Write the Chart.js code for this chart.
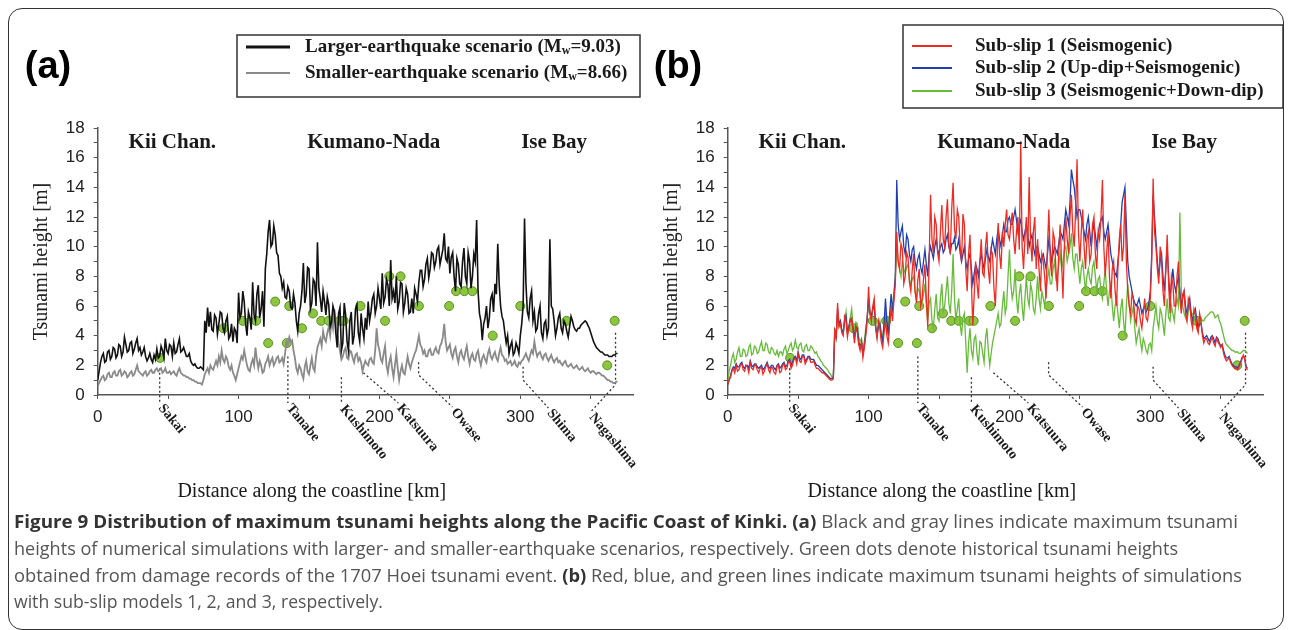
<!DOCTYPE html>
<html>
<head>
<meta charset="utf-8">
<script src="https://cdn.jsdelivr.net/npm/chart.js@4.4.0/dist/chart.umd.min.js"></script>
<style>
html, body { margin: 0; padding: 0; background: #fff; }
body { width: 1290px; height: 630px; position: relative; overflow: hidden; }
#frame { position: absolute; left: 8px; top: 8px; width: 1276px; height: 622px; border: 1.5px solid #333; border-radius: 14px; box-sizing: border-box; }
canvas { position: absolute; top: 0; }
#ca { left: 0; }
#cb { left: 645px; }
#cap { position: absolute; left: 0; top: 500px; font-family: 'Open Sans', 'Noto Sans', sans-serif; font-size: 18px; fill: #555; }
#cap .b { font-weight: bold; fill: #333; }
</style>
</head>
<body>
<div id="frame"></div>
<canvas id="ca" width="645" height="510"></canvas>
<canvas id="cb" width="645" height="510"></canvas>
<svg id="cap" width="1290" height="130">
  <text x="14" y="28" textLength="1224" lengthAdjust="spacingAndGlyphs"><tspan class="b">Figure 9 Distribution of maximum tsunami heights along the Pacific Coast of Kinki.</tspan> <tspan class="b">(a)</tspan> Black and gray lines indicate maximum tsunami</text>
  <text x="14" y="55" textLength="1164" lengthAdjust="spacingAndGlyphs">heights of numerical simulations with larger- and smaller-earthquake scenarios, respectively. Green dots denote historical tsunami heights</text>
  <text x="14" y="82" textLength="1228" lengthAdjust="spacingAndGlyphs">obtained from damage records of the 1707 Hoei tsunami event. <tspan class="b">(b)</tspan> Red, blue, and green lines indicate maximum tsunami heights of simulations</text>
  <text x="14" y="108" textLength="369" lengthAdjust="spacingAndGlyphs">with sub-slip models 1, 2, and 3, respectively.</text>
</svg>
<script>
// distance along the coastline, one sample per km (0 .. 369)
var km = [];
for (var i = 0; i < 370; i++) km.push(i);

// panel (a), heights in m
var larger = [
  1.0,1.6,2.2,2.6,2.8,2.2,2.3,2.9,3.0,2.4,
  2.6,3.2,3.1,2.5,2.7,3.4,3.3,2.6,2.9,3.9,
  3.4,2.9,3.0,3.5,3.6,2.8,3.1,3.5,3.8,3.0,
  3.2,2.7,2.9,3.2,2.6,2.3,2.5,2.8,2.4,2.2,
  2.7,2.4,3.1,2.5,2.6,3.3,3.0,2.5,3.8,3.0,
  2.8,3.4,3.3,2.6,3.5,2.8,2.9,3.4,3.8,2.9,
  3.0,3.2,2.9,2.6,2.6,2.8,2.3,2.1,2.0,2.1,
  1.9,1.8,1.8,1.9,1.8,1.7,5.0,4.2,5.9,4.6,
  5.6,4.4,4.3,5.4,5.2,4.1,4.8,5.6,5.5,4.5,
  4.2,5.0,5.3,3.8,4.0,4.8,3.6,4.5,4.3,3.5,
  6.9,5.2,5.5,7.0,6.3,4.8,4.0,5.6,5.2,4.4,
  7.6,5.4,5.0,6.8,7.4,5.2,5.8,7.0,4.6,8.5,
  9.5,11.0,11.8,10.0,10.2,11.4,10.8,9.6,9.4,8.2,
  8.0,7.2,7.6,6.6,6.5,7.3,7.0,5.9,5.8,6.8,
  6.2,5.0,4.3,5.5,6.0,7.0,8.9,6.2,6.8,8.6,
  8.5,5.8,6.2,7.8,7.6,6.0,10.3,7.2,6.5,5.6,
  7.0,6.3,5.4,6.6,6.1,4.6,4.9,6.0,5.6,4.2,
  3.2,5.5,5.9,3.0,3.5,6.2,5.4,3.6,3.0,5.0,
  5.6,3.4,4.0,5.8,6.1,4.2,3.6,5.5,4.5,3.8,
  5.2,4.4,6.3,5.0,5.6,6.5,6.8,5.5,6.0,7.2,
  6.5,5.8,8.2,6.2,6.6,7.8,7.4,6.0,9.1,6.5,
  7.0,6.2,8.0,5.8,6.3,7.6,7.5,5.6,6.2,7.2,
  6.8,5.5,5.6,6.5,5.5,7.2,6.8,6.3,7.6,8.4,
  8.4,7.3,7.8,8.8,9.2,7.9,8.5,9.6,9.5,8.6,
  9.0,9.8,10.0,8.8,9.3,9.8,10.9,9.2,9.0,10.0,
  8.2,9.3,9.6,8.0,7.0,9.2,8.8,7.5,7.3,9.0,
  9.9,8.0,7.5,9.6,9.0,7.2,8.0,9.5,9.0,11.8,
  7.0,5.5,5.0,3.7,4.8,5.2,6.0,4.5,5.2,6.5,
  6.8,5.6,7.5,6.8,10.2,7.5,6.0,5.3,5.0,4.2,
  3.5,4.0,2.8,3.3,3.6,2.7,2.9,3.5,3.2,2.8,
  4.0,4.8,6.0,11.9,7.5,5.6,5.2,6.5,7.0,5.0,
  5.6,4.3,4.5,5.5,6.0,4.2,3.8,4.8,5.0,4.0,
  4.5,10.5,6.0,5.8,5.0,4.0,4.5,5.2,5.5,4.5,
  4.2,5.0,4.8,4.3,3.9,4.6,5.3,5.0,4.6,4.4,
  4.3,4.5,4.5,4.7,4.8,4.9,5.0,4.9,4.7,4.5,
  4.2,3.9,3.6,3.4,3.2,3.1,3.0,2.9,2.9,2.8,
  2.7,2.7,2.7,2.6,2.6,2.6,2.7,2.7,2.8,2.8
];
var smaller = [
  0.6,0.8,1.0,1.2,1.3,1.0,1.1,1.4,1.5,1.2,
  1.2,1.5,1.6,1.3,1.3,1.6,1.7,1.3,1.4,1.6,
  1.5,1.2,1.3,1.5,1.6,1.3,1.4,1.7,2.0,1.6,
  1.5,1.4,1.3,1.5,1.6,1.3,1.4,1.6,1.7,1.5,
  1.5,1.7,1.8,1.6,1.7,1.8,1.5,1.6,1.8,1.5,
  1.5,1.6,1.4,1.5,1.6,1.4,1.3,1.6,1.8,1.5,
  1.4,1.3,1.3,1.2,1.2,1.1,1.1,1.0,1.0,0.9,
  0.9,0.8,0.8,0.8,0.7,1.0,1.4,1.6,1.8,1.5,
  2.0,1.8,1.7,2.0,2.3,2.0,2.6,2.2,3.0,2.4,
  2.2,2.6,2.4,1.9,1.7,2.0,1.5,1.3,1.0,1.4,
  1.8,2.2,2.6,2.4,3.0,2.5,2.0,1.7,1.6,2.1,
  2.4,2.0,3.2,2.4,1.8,2.3,2.0,1.5,1.6,2.1,
  2.3,2.6,2.0,2.3,2.5,2.0,2.2,2.5,2.6,2.2,
  2.3,2.5,2.1,2.8,3.6,3.4,3.9,3.6,3.7,3.0,
  2.5,1.8,1.5,2.0,1.8,1.4,1.1,1.9,2.3,1.6,
  1.4,2.0,2.5,1.8,1.6,2.6,3.2,3.5,3.8,3.3,
  4.3,3.8,3.6,4.2,4.6,4.0,5.0,4.5,5.8,4.8,
  4.2,3.5,3.0,2.4,2.6,3.0,3.2,2.5,2.4,3.0,
  2.9,2.5,2.2,2.7,2.8,2.3,2.5,2.2,1.6,2.0,
  2.3,2.1,2.0,2.4,2.5,2.2,2.1,3.0,4.5,3.4,
  3.0,2.4,2.2,2.8,3.3,2.0,1.5,2.2,2.6,1.8,
  1.2,2.0,2.8,1.8,1.0,1.6,2.0,1.5,1.4,2.0,
  2.6,2.1,1.8,2.2,2.5,2.8,3.0,3.5,4.0,3.4,
  3.2,2.8,3.0,2.6,2.6,3.0,3.1,2.7,2.7,3.0,
  3.2,2.9,2.8,3.3,3.5,3.9,4.8,3.6,3.0,3.2,
  3.4,2.8,2.5,3.0,3.2,2.6,2.2,2.8,3.0,2.6,
  2.4,2.9,3.3,2.6,2.1,2.6,2.8,2.4,2.3,2.8,
  3.0,2.4,2.0,2.5,2.7,2.4,2.2,2.8,3.1,2.6,
  2.4,2.7,2.9,2.5,2.3,2.8,3.2,2.7,2.6,2.3,
  2.4,2.1,2.2,2.3,2.0,2.1,2.3,2.0,1.9,2.2,
  2.1,2.3,2.4,2.6,2.8,2.5,2.3,2.7,3.0,2.8,
  3.6,3.0,2.6,2.8,2.9,2.6,2.4,2.7,2.8,2.5,
  2.3,2.5,2.7,2.4,2.2,2.4,2.5,2.2,2.3,2.1,
  2.0,2.2,2.3,2.0,1.9,2.0,2.1,1.9,1.8,1.9,
  2.0,1.8,1.7,1.8,1.9,1.7,1.6,1.7,1.8,1.6,
  1.5,1.6,1.6,1.5,1.4,1.5,1.5,1.4,1.3,1.3,
  1.2,1.1,1.0,1.0,0.9,0.9,0.8,0.8,0.9,0.9
];

// panel (b), heights in m
var subslip1 = [
  0.7,1.0,1.2,1.6,1.8,1.5,2.0,1.6,1.7,2.0,
  2.1,1.7,1.6,2.0,1.9,1.5,2.2,1.8,1.7,2.0,
  2.0,1.7,1.5,1.8,1.9,1.4,1.6,1.9,2.1,1.7,
  1.5,1.9,1.8,1.5,1.4,1.9,2.0,1.5,1.6,2.0,
  2.1,1.7,1.8,2.2,2.3,1.8,2.0,2.4,2.5,2.1,
  2.8,2.3,2.2,2.6,2.6,2.1,2.3,2.5,2.5,2.2,
  2.2,2.3,2.0,1.8,1.8,1.7,1.6,1.5,1.5,1.4,
  1.3,1.2,1.1,1.0,1.0,1.1,4.5,3.8,6.2,4.6,
  4.8,4.2,4.0,5.3,5.0,3.9,4.5,5.0,5.2,4.4,
  3.5,4.6,4.2,3.4,3.0,3.6,2.5,3.2,4.0,5.0,
  7.3,5.5,5.0,6.0,6.5,4.5,3.8,5.0,4.5,3.6,
  3.2,4.2,5.0,4.0,3.5,4.8,5.8,5.0,6.4,7.5,
  11.0,9.0,8.5,10.2,9.8,7.5,8.0,9.6,9.3,7.6,
  7.0,8.4,9.5,7.0,6.2,7.8,8.5,6.0,6.5,7.8,
  8.8,6.5,4.6,9.0,13.5,10.5,9.5,12.0,11.5,9.6,
  9.0,11.0,12.8,10.5,10.0,12.0,13.2,10.2,9.5,12.5,
  14.3,11.2,10.5,12.5,12.0,10.0,9.0,12.2,11.5,8.5,
  7.0,9.5,10.8,7.5,4.7,6.8,9.0,7.5,6.5,9.0,
  10.5,8.2,8.0,10.0,11.0,8.5,7.5,9.8,9.5,7.2,
  6.0,8.5,11.6,9.5,8.5,11.0,10.0,11.5,12.5,10.8,
  10.5,11.5,12.3,10.5,9.5,11.0,12.0,9.8,17.1,10.0,
  8.5,10.5,12.0,9.5,14.7,10.5,9.0,11.0,12.0,8.5,
  10.5,8.5,7.0,9.5,9.0,8.0,6.5,10.0,12.5,9.0,
  8.0,11.0,10.5,8.5,7.0,9.5,11.5,9.0,6.5,10.0,
  12.0,10.5,9.5,12.0,13.5,11.0,10.0,12.5,15.9,11.0,
  9.0,11.0,12.5,10.0,8.5,10.5,11.0,9.0,9.5,11.5,
  12.0,9.5,8.5,11.0,10.5,12.0,14.5,10.0,8.0,9.5,
  11.0,8.0,6.5,8.5,9.0,7.0,6.0,8.5,10.5,11.5,
  9.0,10.0,13.5,9.0,7.0,6.0,5.5,6.8,6.5,5.2,
  4.8,6.0,5.8,5.0,4.5,5.5,6.5,5.2,5.0,5.8,
  6.5,9.0,14.6,11.0,10.0,8.5,7.5,10.0,9.0,7.0,
  6.0,8.5,10.8,7.5,5.5,8.0,7.5,6.0,6.0,8.0,
  9.0,6.5,5.5,6.8,7.0,5.5,5.0,6.5,6.2,5.0,
  4.5,5.8,5.5,4.5,4.2,5.5,5.0,4.0,3.5,3.8,
  3.8,3.5,3.4,3.7,3.9,3.5,3.3,3.8,3.6,3.4,
  3.2,3.4,2.8,2.5,2.3,2.4,2.5,2.2,2.0,1.9,
  1.8,1.8,1.7,1.9,2.1,2.4,2.7,2.5,1.8,1.7
];
var subslip2 = [
  0.7,1.0,1.3,1.7,1.9,1.8,2.1,1.9,1.9,2.1,
  2.2,1.9,1.8,2.0,2.0,1.8,2.3,2.0,1.9,2.1,
  2.1,1.9,1.8,1.9,2.0,1.7,1.8,2.0,2.2,1.9,
  1.8,2.0,2.0,1.8,1.7,2.0,2.1,1.8,1.9,2.1,
  2.2,1.9,2.0,2.3,2.4,2.0,2.2,2.5,2.6,2.3,
  2.9,2.5,2.4,2.7,2.7,2.3,2.4,2.6,2.6,2.4,
  2.4,2.4,2.2,2.0,2.0,1.9,1.8,1.7,1.6,1.5,
  1.4,1.3,1.2,1.1,1.1,1.2,4.3,3.9,5.8,4.8,
  5.0,4.4,4.2,5.0,5.3,4.2,4.6,5.1,5.0,4.5,
  3.8,4.6,4.5,3.6,3.3,3.5,2.8,3.3,4.2,5.2,
  6.5,5.6,5.3,5.8,6.0,4.6,4.0,4.6,4.8,4.0,
  3.6,4.8,6.5,5.0,4.0,5.5,6.8,5.8,6.5,8.0,
  14.5,11.5,10.5,11.0,11.4,10.0,9.5,10.8,10.5,9.5,
  9.0,9.8,10.0,9.0,8.5,9.2,9.5,8.6,8.2,9.0,
  9.8,8.8,8.0,9.5,10.0,9.6,9.2,10.0,10.5,9.8,
  9.5,10.0,10.2,9.6,9.8,10.5,10.8,10.0,9.6,10.2,
  10.2,10.6,9.8,10.0,10.5,9.6,9.0,9.5,10.0,9.0,
  8.5,9.2,9.5,8.5,7.5,8.2,8.8,8.5,8.0,9.0,
  9.5,9.0,8.5,9.2,9.8,9.3,9.0,9.8,10.5,10.0,
  9.5,10.5,11.2,10.5,10.0,10.8,11.5,11.0,11.0,11.8,
  12.0,11.5,11.5,12.0,12.5,11.8,11.0,11.5,11.8,11.0,
  10.5,11.0,11.5,10.8,10.0,10.5,10.8,10.0,9.5,10.0,
  10.0,9.5,9.0,9.3,9.5,9.0,8.5,9.5,10.5,9.8,
  9.0,9.5,10.0,9.8,9.5,10.2,11.0,10.8,10.5,11.5,
  12.5,12.0,11.5,13.0,15.2,14.5,14.0,13.0,12.0,12.5,
  12.5,12.0,11.5,11.0,10.5,11.5,12.0,11.0,10.0,11.0,
  11.5,10.8,10.0,10.8,11.5,11.8,12.0,11.0,10.5,11.0,
  11.5,10.5,9.5,9.0,8.5,8.2,8.0,9.0,10.0,11.5,
  13.0,13.5,14.0,11.5,9.0,8.0,7.5,7.0,6.5,6.2,
  6.0,6.2,6.5,6.0,5.5,5.8,6.0,5.6,5.8,6.2,
  7.0,9.5,13.5,12.0,10.5,9.0,8.0,9.0,9.5,8.0,
  7.0,8.5,10.0,8.0,6.5,7.5,8.5,7.5,7.0,7.5,
  8.0,7.0,6.0,6.5,7.0,6.0,5.5,6.0,6.5,5.5,
  5.0,5.5,5.8,5.0,4.5,4.8,4.8,4.2,3.8,3.9,
  4.0,3.8,3.6,3.9,4.0,3.8,3.5,3.9,3.8,3.5,
  3.3,3.4,3.0,2.7,2.5,2.5,2.6,2.3,2.1,2.0,
  1.9,1.9,1.8,2.0,2.2,2.5,2.6,2.5,1.9,1.8
];
var subslip3 = [
  0.8,1.6,2.0,2.5,2.8,2.2,2.4,2.9,3.2,2.6,
  2.6,3.1,3.0,2.6,2.7,3.2,3.4,2.7,2.8,3.3,
  3.2,2.8,2.9,3.3,3.6,3.0,3.0,3.5,3.4,2.9,
  2.8,3.2,3.1,2.8,2.7,3.0,2.6,2.9,2.9,2.7,
  3.1,3.3,2.8,3.0,3.3,3.5,3.0,3.2,3.7,3.2,
  3.1,3.4,3.5,3.0,2.9,3.3,3.4,3.0,3.0,3.3,
  3.2,3.0,2.8,2.9,2.6,2.5,2.3,2.2,2.0,1.9,
  1.8,1.7,1.5,1.4,1.2,1.3,4.3,3.8,5.5,4.6,
  5.0,4.4,4.2,5.0,5.6,4.3,4.5,5.2,5.8,4.6,
  4.0,4.9,4.8,3.9,3.6,3.8,3.2,3.6,4.5,5.2,
  6.0,5.4,5.2,5.8,6.3,4.8,4.0,4.6,5.0,4.2,
  3.8,4.8,5.5,4.6,4.2,5.0,6.0,5.8,7.0,8.0,
  10.0,9.0,8.5,8.0,9.0,8.5,8.2,8.6,8.8,7.8,
  7.5,7.8,8.0,7.0,6.5,7.2,7.0,6.4,6.2,6.8,
  7.5,6.0,5.0,6.2,6.5,5.0,4.5,5.8,6.8,5.2,
  5.0,6.5,7.5,5.6,6.0,7.0,8.0,6.2,5.5,7.0,
  9.5,6.5,5.0,5.8,6.5,4.8,4.0,5.2,5.5,3.5,
  1.5,3.5,4.5,3.0,2.5,3.8,4.0,2.8,2.0,3.6,
  3.5,2.8,2.2,3.8,4.5,3.0,2.0,2.8,3.5,4.0,
  4.5,5.0,5.5,4.6,4.8,6.0,7.0,5.5,6.0,8.0,
  9.8,7.5,6.5,7.0,8.5,6.5,5.5,6.8,7.5,6.0,
  5.0,6.5,8.0,6.5,6.0,7.5,7.0,5.8,5.5,6.5,
  8.0,6.5,5.8,7.0,6.5,6.0,7.0,7.8,8.5,7.5,
  7.5,8.5,9.0,7.8,8.0,8.8,9.5,8.5,9.0,9.8,
  10.0,9.0,9.5,10.0,10.9,9.2,8.5,9.5,9.5,8.5,
  7.5,8.5,9.0,8.0,7.0,8.0,8.5,7.8,7.5,8.6,
  9.0,8.0,7.0,7.8,8.0,7.0,6.5,7.5,8.5,7.0,
  6.0,7.0,7.5,6.0,5.0,6.0,6.5,5.5,4.5,5.8,
  6.5,5.0,4.0,6.0,7.5,6.2,5.0,5.5,6.0,4.5,
  3.5,4.0,4.5,3.6,3.0,3.8,3.5,3.0,2.8,3.4,
  3.5,3.0,4.5,5.2,6.0,5.0,4.5,5.8,5.5,4.8,
  4.0,5.5,6.5,5.2,5.0,6.0,5.5,5.0,6.0,6.5,
  6.0,12.3,7.0,6.0,5.5,5.2,5.0,5.6,6.0,5.5,
  5.5,5.2,5.0,4.8,4.5,4.8,5.2,5.0,5.0,5.2,
  5.3,5.4,5.5,5.6,5.6,5.5,5.2,5.3,5.4,5.0,
  4.8,4.4,4.0,3.6,3.4,3.3,3.2,3.1,3.0,3.0,
  2.9,2.9,2.9,2.8,2.8,2.9,3.0,3.0,2.9,2.8
];

// historical heights (1707 Hoei)
var histKm = [44.3, 89.3, 103, 112.5, 121, 126, 134.3, 136, 145, 152.8, 158.7, 164, 171.7, 174.6,
  186.5, 204, 207, 215, 228, 249.5, 254.4, 260.3, 266, 280.4, 300, 332.8, 361.7, 367];
var histM = [2.5, 4.5, 5.0, 5.0, 3.5, 6.3, 3.5, 6.0, 4.5, 5.5, 5.0, 5.0, 5.0, 5.0,
  6.0, 5.0, 8.0, 8.0, 6.0, 6.0, 7.0, 7.0, 7.0, 4.0, 6.0, 5.0, 2.0, 5.0];

// place names along the coast
var siteNames = ['Sakai', 'Tanabe', 'Kushimoto', 'Katsuura', 'Owase', 'Shima', 'Nagashima'];
var siteKm = [44, 135, 173, 188.6, 227.8, 302, 367.6];
var siteTop = [1.8, 2.6, 1.2, 1.5, 2.2, 1.9, 4.2];
var siteBend = [null, null, null, 1.5, 1.35, 1.0, 0.7];
var siteEndKm = [44, 135, 173, 213.4, 251.8, 320, 349.9];

var regionNames = ['Kii Chan.', 'Kumano-Nada', 'Ise Bay'];
var regionKm = [53, 196, 324];

var serif = "'Liberation Serif','Times New Roman',serif";
var sans = "'Liberation Sans',Arial,sans-serif";

function pts(ys) {
  return ys.map(function (v, i) { return {x: km[i], y: v}; });
}

function drawLabel(ctx, text, x, y, size) {
  var parts = text.split(/\{(\w)\}/);
  var cx = x;
  for (var i = 0; i < parts.length; i++) {
    if (i % 2) {
      ctx.font = 'bold ' + Math.round(size * 0.65) + 'px ' + serif;
      ctx.fillText(parts[i], cx, y + size * 0.22);
    } else {
      ctx.font = 'bold ' + size + 'px ' + serif;
      ctx.fillText(parts[i], cx, y);
    }
    cx += ctx.measureText(parts[i]).width;
  }
}

var drops = [8, 8, 9, 8, 12, 13, 17];

function decoPlugin(p) {
  return {
    id: 'deco',
    beforeDatasetsDraw: function (chart) {
      var ctx = chart.ctx, x = chart.scales.x, y = chart.scales.y;
      var y0 = y.getPixelForValue(0);
      ctx.save();
      ctx.strokeStyle = '#333';
      ctx.lineWidth = 1.3;
      ctx.setLineDash([2, 2.5]);
      for (var i = 0; i < siteNames.length; i++) {
        var xt = x.getPixelForValue(siteKm[i]), yt = y.getPixelForValue(siteTop[i]);
        ctx.beginPath();
        ctx.moveTo(xt, yt);
        if (siteBend[i] !== null) ctx.lineTo(xt, y.getPixelForValue(siteBend[i]));
        ctx.lineTo(x.getPixelForValue(siteEndKm[i]), y0 + drops[i]);
        ctx.stroke();
      }
      ctx.restore();
    },
    afterDraw: function (chart) {
      var ctx = chart.ctx, x = chart.scales.x, y = chart.scales.y, area = chart.chartArea;
      var y0 = y.getPixelForValue(0);
      ctx.save();
      ctx.fillStyle = '#1a1a1a';
      // place names, slanted
      ctx.font = 'bold 14px ' + serif;
      ctx.textAlign = 'left';
      ctx.textBaseline = 'middle';
      for (var i = 0; i < siteNames.length; i++) {
        ctx.save();
        ctx.translate(x.getPixelForValue(siteEndKm[i]) + 1, y0 + drops[i] + 3);
        ctx.rotate(50 * Math.PI / 180);
        ctx.fillText(siteNames[i], 0, 0);
        ctx.restore();
      }
      // region names
      ctx.font = 'bold 21px ' + serif;
      ctx.textAlign = 'center';
      ctx.textBaseline = 'alphabetic';
      for (var r = 0; r < regionNames.length; r++) {
        ctx.fillText(regionNames[r], x.getPixelForValue(regionKm[r]), area.top + 20);
      }
      // x axis title
      ctx.font = '20px ' + serif;
      ctx.textBaseline = 'middle';
      ctx.fillText('Distance along the coastline [km]', area.left + 0.4 * (area.right - area.left), 492);
      // panel letter
      ctx.font = 'bold 38px ' + sans;
      ctx.fillStyle = '#000';
      ctx.fillText(p.letter, p.letterX, 68);
      // legend
      var b = p.box;
      ctx.strokeStyle = '#333';
      ctx.lineWidth = 1.5;
      ctx.strokeRect(b[0], b[1], b[2], b[3]);
      ctx.textAlign = 'left';
      ctx.fillStyle = '#1a1a1a';
      var ds = chart.data.datasets.filter(function (d) { return d.legend; });
      ds.forEach(function (d, k) {
        var ry = p.rows[k];
        ctx.strokeStyle = d.borderColor;
        ctx.lineWidth = d.legendWidth;
        ctx.beginPath();
        ctx.moveTo(p.lineX[0], ry);
        ctx.lineTo(p.lineX[1], ry);
        ctx.stroke();
        ctx.textBaseline = 'middle';
        drawLabel(ctx, d.legend, p.textX, ry, 19);
      });
      ctx.restore();
    }
  };
}

function makeChart(id, datasets, p) {
  datasets.push({
    data: histKm.map(function (v, i) { return {x: v, y: histM[i]}; }),
    showLine: false,
    pointRadius: 4.5,
    pointBackgroundColor: '#8cc63e',
    pointBorderColor: '#5b8e26',
    pointBorderWidth: 1
  });
  return new Chart(document.getElementById(id), {
    type: 'line',
    data: {datasets: datasets},
    options: {
      responsive: false,
      animation: false,
      devicePixelRatio: 1,
      layout: {padding: {left: 0, right: p.padRight, top: 128, bottom: 0}},
      elements: {point: {radius: 0}, line: {tension: 0}},
      plugins: {legend: {display: false}, tooltip: {enabled: false}},
      scales: {
        x: {
          type: 'linear', min: 0, max: 380,
          afterFit: function (s) { s.height = 115; },
          border: {color: '#555', width: 1.5},
          grid: {drawOnChartArea: false, tickLength: 4, color: '#555'},
          ticks: {
            stepSize: 50, includeBounds: false, autoSkip: false, maxRotation: 0, padding: 8,
            color: '#222', font: {family: sans, size: 17},
            callback: function (v) { return v % 100 === 0 ? v : ''; }
          }
        },
        y: {
          min: 0, max: 18,
          afterFit: function (s) { s.width = p.yWidth; },
          border: {color: '#555', width: 1.5},
          grid: {drawOnChartArea: false, tickLength: 4, color: '#555'},
          ticks: {
            stepSize: 1, autoSkip: false, padding: 9,
            color: '#222', font: {family: sans, size: 17},
            callback: function (v) { return v % 2 === 0 ? v : ''; }
          },
          title: {display: true, text: 'Tsunami height [m]', color: '#222',
            font: {family: serif, size: 20}, padding: {top: p.titlePad, bottom: 0}}
        }
      }
    },
    plugins: [decoPlugin(p)]
  });
}

makeChart('ca', [
  {legend: 'Larger-earthquake scenario (M{w}=9.03)', data: pts(larger), borderColor: '#111', borderWidth: 1.6, legendWidth: 3},
  {legend: 'Smaller-earthquake scenario (M{w}=8.66)', data: pts(smaller), borderColor: '#8a8a8a', borderWidth: 1.8, legendWidth: 2}
], {letter: '(a)', letterX: 48, padRight: 12, yWidth: 97.7, titlePad: 30,
    box: [237, 35, 403, 62], rows: [47, 73], lineX: [246, 290], textX: 305});

makeChart('cb', [
  {legend: 'Sub-slip 1 (Seismogenic)', data: pts(subslip1), borderColor: '#ee2a22', borderWidth: 1.3, legendWidth: 2},
  {legend: 'Sub-slip 2 (Up-dip+Seismogenic)', data: pts(subslip2), borderColor: '#1f3fb0', borderWidth: 1.3, legendWidth: 2},
  {legend: 'Sub-slip 3 (Seismogenic+Down-dip)', data: pts(subslip3), borderColor: '#66bb3a', borderWidth: 1.3, legendWidth: 2}
], {letter: '(b)', letterX: 33, padRight: 27, yWidth: 82.7, titlePad: 15,
    box: [258, 25, 380, 83], rows: [46, 68, 91], lineX: [267, 307], textX: 330});
</script>
</body>
</html>
